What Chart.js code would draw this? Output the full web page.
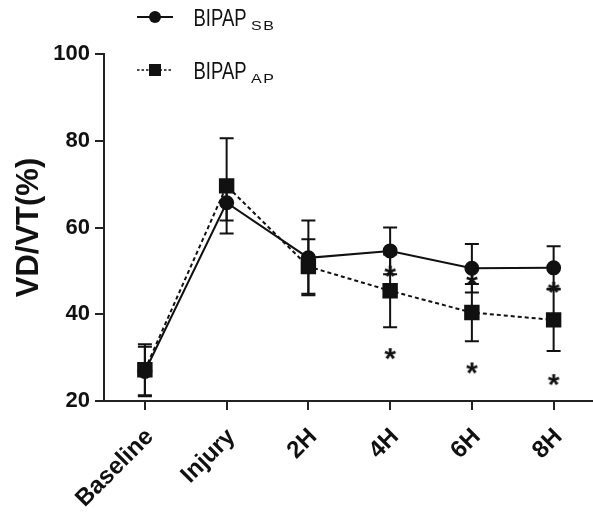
<!DOCTYPE html>
<html>
<head>
<meta charset="utf-8">
<script src="https://cdn.jsdelivr.net/npm/chart.js@4.4.1/dist/chart.umd.min.js"></script>
<style>
  html, body { margin: 0; padding: 0; background: #fff; overflow: hidden; }
  #wrap { position: relative; width: 593px; height: 514px; overflow: hidden; }
  #chart { position: absolute; left: 0; top: 0; }
  .lab { position: absolute; left: 193.5px; font: 18.5px "Liberation Sans", Arial, sans-serif; line-height: 18.5px;
         transform: scaleY(1.3); transform-origin: top left; color: #111; white-space: nowrap; }
  .sub { position: absolute; left: 251px; font: 16px "Liberation Sans", Arial, sans-serif; line-height: 16px;
         letter-spacing: 1.5px; transform: scaleY(0.8); transform-origin: top left; color: #111; white-space: nowrap; }
</style>
</head>
<body>
<div id="wrap">
  <canvas id="chart" width="606" height="514"></canvas>
  <svg width="60" height="90" style="position:absolute;left:130px;top:0">
    <line x1="7" y1="17" x2="43" y2="17" stroke="#111" stroke-width="2"/>
    <circle cx="25" cy="17" r="6" fill="#111"/>
    <line x1="7" y1="70" x2="43" y2="70" stroke="#111" stroke-width="1.5" stroke-dasharray="2.5,2"/>
    <rect x="19" y="64" width="12" height="12" fill="#111"/>
  </svg>
  <span class="lab" style="top:6.3px">BIPAP</span><span class="sub" style="top:20px">SB</span>
  <span class="lab" style="top:58.9px">BIPAP</span><span class="sub" style="top:72.6px">AP</span>
</div>
<script>
const labels = ['Baseline', 'Injury', '2H', '4H', '6H', '8H'];
const sbMean = [26.8, 65.7, 53.0, 54.6, 50.6, 50.7];
const sbSd   = [5.7, 4.1, 8.6, 5.4, 5.6, 5.0];
const apMean = [27.2, 69.6, 51.0, 45.4, 40.4, 38.7];
const apSd   = [5.9, 11.0, 6.3, 8.4, 6.6, 7.2];
const starUpper = [null, null, null, 49.8, 47.9, 46.1];
const starLower = [null, null, null, 30.8, 27.5, 24.8];
const yTicks = [20, 40, 60, 80, 100];

const ink = '#111';
const axisInk = '#222';

// asterisk marker drawn from the font
function makeStar() {
  const c = document.createElement('canvas');
  c.width = 26; c.height = 26;
  const g = c.getContext('2d');
  g.font = 'bold 30px "Liberation Sans", Arial, sans-serif';
  g.fillStyle = ink;
  g.textAlign = 'center';
  const m = g.measureText('*');
  const asc = m.actualBoundingBoxAscent, desc = m.actualBoundingBoxDescent;
  g.fillText('*', 13, 13 + (asc - desc) / 2);
  return c;
}
const star = makeStar();

// error bars, drawn under the lines and markers
const errorBars = {
  id: 'errorBars',
  beforeDatasetsDraw(chart) {
    const { ctx, scales: { x, y } } = chart;
    const sets = [[sbMean, sbSd], [apMean, apSd]];
    ctx.save();
    ctx.strokeStyle = ink;
    ctx.lineWidth = 2;
    sets.forEach(([mean, sd]) => {
      mean.forEach((m, i) => {
        const px = x.getPixelForValue(i);
        const top = y.getPixelForValue(m + sd[i]);
        const bot = y.getPixelForValue(m - sd[i]);
        ctx.beginPath();
        ctx.moveTo(px, top); ctx.lineTo(px, bot);
        ctx.moveTo(px - 7, top); ctx.lineTo(px + 7, top);
        ctx.moveTo(px - 7, bot); ctx.lineTo(px + 7, bot);
        ctx.stroke();
      });
    });
    ctx.restore();
  }
};

const fam = '"Liberation Sans", Arial, sans-serif';

new Chart(document.getElementById('chart'), {
  type: 'line',
  data: {
    labels: labels,
    datasets: [
      {
        label: 'BIPAP SB',
        data: sbMean,
        borderColor: ink, backgroundColor: ink, borderWidth: 2,
        pointStyle: 'circle', pointRadius: 6.5, pointHoverRadius: 6.5,
        tension: 0
      },
      {
        label: 'BIPAP AP',
        data: apMean,
        borderColor: ink, backgroundColor: ink, borderWidth: 2, borderDash: [4, 3],
        pointStyle: 'rect', pointRadius: 9.5, pointHoverRadius: 9.5,
        tension: 0
      },
      {
        label: 'p upper',
        data: starUpper,
        showLine: false, pointStyle: star, pointRadius: 6
      },
      {
        label: 'p lower',
        data: starLower,
        showLine: false, pointStyle: star, pointRadius: 6
      }
    ]
  },
  options: {
    responsive: false,
    animation: false,
    devicePixelRatio: 1,
    layout: { padding: { top: 54, left: 0, right: 2, bottom: 0 } },
    plugins: {
      legend: { display: false },
      tooltip: { enabled: false }
    },
    scales: {
      x: {
        offset: true,
        grid: { drawOnChartArea: false, drawTicks: true, tickLength: 9, color: axisInk, lineWidth: 2 },
        border: { display: true, color: axisInk, width: 2 },
        ticks: { color: ink, font: { family: fam, size: 24, weight: 'bold' },
                 minRotation: 45, maxRotation: 45, autoSkip: false, padding: 13, labelOffset: 5 },
        afterFit(scale) { scale.height = 113; }
      },
      y: {
        min: 20, max: 100,
        afterBuildTicks(scale) { scale.ticks = yTicks.map(v => ({ value: v })); },
        grid: { drawOnChartArea: false, drawTicks: true, tickLength: 9, color: axisInk, lineWidth: 2 },
        border: { display: true, color: axisInk, width: 2 },
        ticks: { color: ink, font: { family: fam, size: 22, weight: 'bold' }, padding: 5 },
        title: {
          display: true, text: 'VD/VT(%)', color: ink,
          font: { family: fam, size: 31, weight: 'bold' },
          padding: { top: 11, bottom: 0 }
        },
        afterFit(scale) { scale.width = 104; }
      }
    }
  },
  plugins: [errorBars]
});
</script>
</body>
</html>
